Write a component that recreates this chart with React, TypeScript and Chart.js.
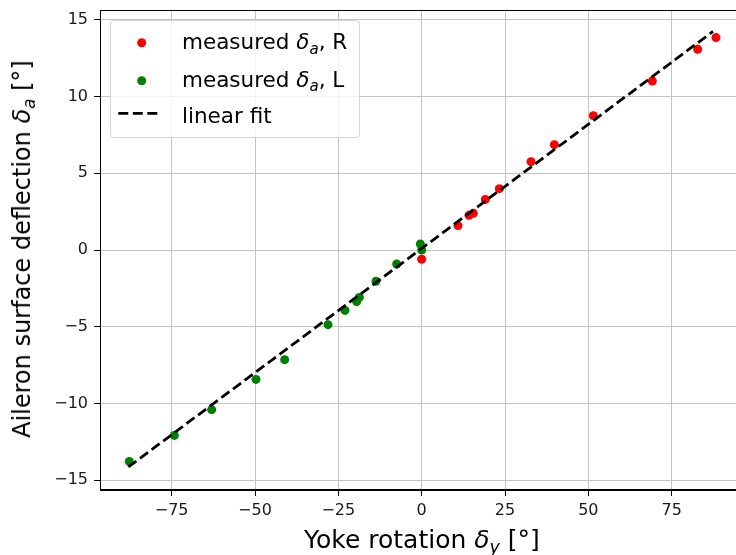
import React, { useEffect, useRef } from "react";
import { Chart, registerables } from "chart.js";

Chart.register(...registerables);

// measured aileron deflection, right aileron (yoke rotation [deg], deflection [deg])
const rightX = [88.3, 82.8, 69.2, 51.5, 39.8, 32.8, 23.3, 19.1, 15.5, 14.2, 10.9, 0.0];
const rightY = [13.85, 13.09, 11.02, 8.76, 6.87, 5.76, 4.0, 3.3, 2.39, 2.26, 1.59, -0.6];
// measured aileron deflection, left aileron
const leftX = [-0.4, 0.0, -7.5, -13.7, -18.7, -19.5, -23.0, -28.1, -41.1, -49.7, -63.0, -74.2, -87.7];
const leftY = [0.39, 0.0, -0.91, -2.04, -3.09, -3.37, -3.94, -4.87, -7.15, -8.44, -10.41, -12.09, -13.79];
// linear fit end points
const fitX = [-88.0, 87.4];
const fitY = [-14.15, 14.25];
// tick values
const xTicks = [-75, -50, -25, 0, 25, 50, 75];
const yTicks = [-15, -10, -5, 0, 5, 10, 15];

const FONT = "'DejaVu Sans', sans-serif";

const fmt = (v: number | string) => {
  const n = Number(v);
  return n < 0 ? "\u2212" + Math.abs(n) : String(n);
};

const framePlugin = {
  id: "frame",
  afterDraw(chart: any) {
    const { ctx, chartArea } = chart;
    ctx.save();
    ctx.strokeStyle = "#000";
    ctx.lineWidth = 1;
    ctx.strokeRect(
      Math.round(chartArea.left) + 0.5,
      Math.round(chartArea.top) + 0.5,
      Math.round(chartArea.right - chartArea.left) - 1,
      Math.round(chartArea.bottom - chartArea.top) - 1
    );
    ctx.restore();
  },
};

const Sub = ({ c }: { c: string }) => (
  <span style={{ fontSize: "0.7em", fontStyle: "italic", position: "relative", top: "0.3em" }}>{c}</span>
);

export default function App() {
  const ref = useRef<HTMLCanvasElement | null>(null);

  useEffect(() => {
    if (!ref.current) return;
    Chart.defaults.font.family = FONT;
    const chart = new Chart(ref.current, {
      type: "scatter",
      data: {
        datasets: [
          {
            label: "linear fit",
            type: "line",
            data: fitX.map((x, i) => ({ x, y: fitY[i] })),
            borderColor: "#000",
            borderWidth: 2.8,
            borderDash: [10, 4.5],
            pointRadius: 0,
            showLine: true,
            fill: false,
            order: 0,
          } as any,
          {
            label: "measured δa, L",
            data: leftX.map((x, i) => ({ x, y: leftY[i] })),
            backgroundColor: "#008000",
            borderWidth: 0,
            pointRadius: 4.5,
            order: 1,
          },
          {
            label: "measured δa, R",
            data: rightX.map((x, i) => ({ x, y: rightY[i] })),
            backgroundColor: "#ff0000",
            borderWidth: 0,
            pointRadius: 4.5,
            order: 2,
          },
        ],
      },
      options: {
        responsive: false,
        animation: false,
        layout: { padding: { left: 0, top: 10, right: 15, bottom: 0 } },
        plugins: { legend: { display: false }, tooltip: { enabled: false } },
        scales: {
          x: {
            type: "linear",
            min: -96.5,
            max: 97.0,
            afterBuildTicks: (s: any) => {
              s.ticks = xTicks.map((v) => ({ value: v }));
            },
            afterFit: (s: any) => {
              s.height = 65;
              s.paddingLeft = 0;
              s.paddingRight = 0;
            },
            ticks: {
              callback: fmt,
              font: { family: FONT, size: 16 },
              color: "#1a1a1a",
              padding: 5,
              maxRotation: 0,
              autoSkip: false,
            },
            grid: { color: "#c4c4c4", lineWidth: 1, tickColor: "#000", tickLength: 6, tickWidth: 1 },
            border: { color: "#000", width: 1 },
          },
          y: {
            type: "linear",
            min: -15.65,
            max: 15.65,
            afterBuildTicks: (s: any) => {
              s.ticks = yTicks.map((v) => ({ value: v }));
            },
            afterFit: (s: any) => {
              s.width = 100;
              s.paddingTop = 0;
              s.paddingBottom = 0;
            },
            ticks: {
              callback: fmt,
              font: { family: FONT, size: 16 },
              color: "#1a1a1a",
              padding: 6,
              autoSkip: false,
            },
            grid: { color: "#c4c4c4", lineWidth: 1, tickColor: "#000", tickLength: 6, tickWidth: 1 },
            border: { color: "#000", width: 1 },
          },
        },
      },
      plugins: [framePlugin],
    });
    return () => chart.destroy();
  }, []);

  const titleStyle: React.CSSProperties = {
    position: "absolute",
    fontFamily: FONT,
    fontSize: 25,
    lineHeight: "25px",
    color: "#000",
    whiteSpace: "nowrap",
  };
  const legendText: React.CSSProperties = {
    position: "absolute",
    left: 182,
    fontFamily: FONT,
    fontSize: 21.5,
    lineHeight: "21.5px",
    color: "#000",
    whiteSpace: "nowrap",
  };

  return (
    <div style={{ position: "absolute", left: 0, top: 0, width: 736, height: 555, overflow: "hidden", background: "#fff" }}>
      <canvas ref={ref} width={760} height={555} style={{ position: "absolute", left: 0, top: 0, width: 760, height: 555 }} />
      <div
        style={{
          ...titleStyle,
          fontSize: 24,
          lineHeight: "24px",
          left: 23,
          top: 249,
          transform: "translate(-50%, -50%) rotate(-90deg)",
        }}
      >
        Aileron surface deflection <i>δ</i>
        <Sub c="a" /> [°]
      </div>
      <div style={{ ...titleStyle, left: 422, top: 527, transform: "translateX(-50%)" }}>
        Yoke rotation <i>δ</i>
        <Sub c="y" /> [°]
      </div>
      <div
        style={{
          position: "absolute",
          left: 110,
          top: 20,
          width: 248,
          height: 116,
          border: "1px solid #d4d4d4",
          borderRadius: 4,
          background: "rgba(255,255,255,0.8)",
        }}
      />
      <svg style={{ position: "absolute", left: 0, top: 0 }} width={736} height={555}>
        <circle cx={141.7} cy={42.7} r={4.5} fill="#ff0000" />
        <circle cx={141.7} cy={80.7} r={4.5} fill="#008000" />
        <line x1={118.3} y1={113.3} x2={157.7} y2={113.3} stroke="#000" strokeWidth={2.8} strokeDasharray="10 4.5" />
      </svg>
      <div style={{ ...legendText, top: 31 }}>
        measured <i>δ</i>
        <Sub c="a" />, R
      </div>
      <div style={{ ...legendText, top: 68.5 }}>
        measured <i>δ</i>
        <Sub c="a" />, L
      </div>
      <div style={{ ...legendText, top: 104.5 }}>linear fit</div>
    </div>
  );
}
